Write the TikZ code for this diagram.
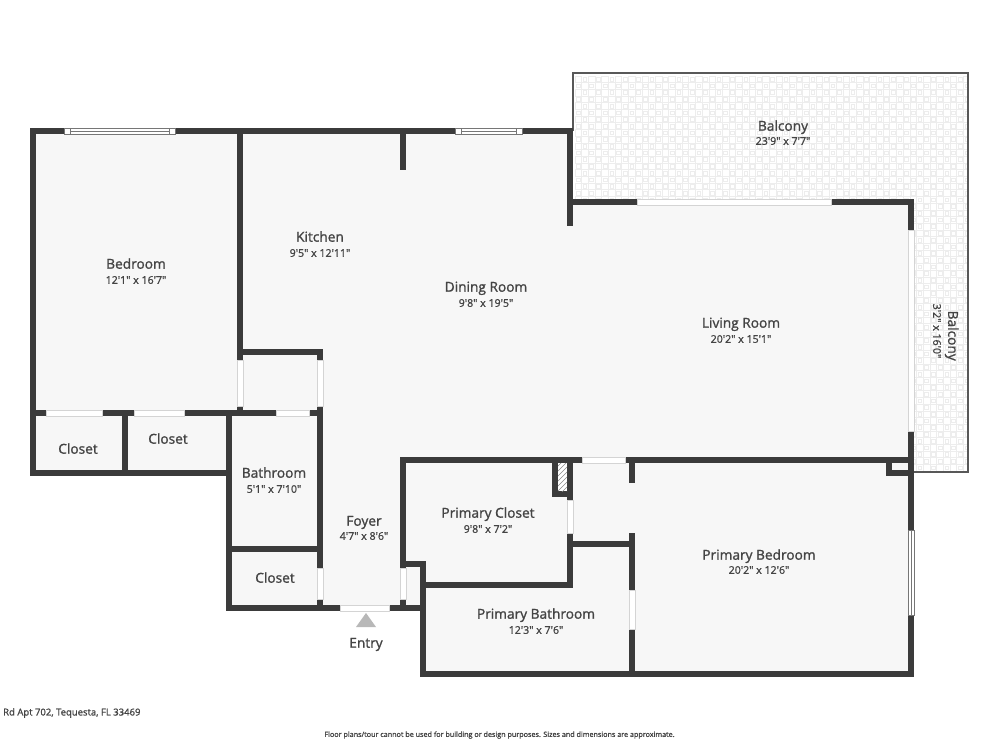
\documentclass[tikz,border=0pt]{standalone}
\usepackage{fontspec}
\newfontfamily\planfont[FakeBold=1.3]{Open Sans}
\definecolor{wallcolor}{HTML}{3B3B3B}
\definecolor{floorcolor}{HTML}{F7F7F7}
\definecolor{tilecolor}{HTML}{EDEDED}
\definecolor{edgecolor}{HTML}{D4D4D4}
\definecolor{textcolor}{HTML}{444444}
\tikzset{
	wallline/.style={draw=wallcolor, line width=6pt, line cap=butt},
	doorgap/.style={fill=white, draw=edgecolor, line width=0.8pt},
	roomname/.style={text=textcolor, font=\planfont\fontsize{13.7}{14}\selectfont, inner sep=0pt, anchor=base, yshift=-4.7pt},
	roomsize/.style={text=textcolor, font=\planfont\fontsize{10.6}{11}\selectfont, inner sep=0pt},
	footnote/.style={text=textcolor, font=\planfont\fontsize{7.2}{8}\selectfont, inner sep=0pt}
}
\begin{document}
\begin{tikzpicture}[x=1pt, y=-1pt, line join=miter, >=stealth]
	\useasboundingbox (0,0) rectangle (1000,750);
	\fill[white] (0,0) rectangle (1000,750);
	% balcony tiles
	\begin{scope}
		\clip (573,73) rectangle (968,472);
		\foreach \i in {0,...,29}{
			\foreach \j in {0,...,30}{
				\draw[tilecolor, line width=0.9pt] (575+\i*13.4,76+\j*13.4) rectangle ++(6.7,6.7);
				\draw[tilecolor, line width=0.9pt] (581.7+\i*13.4,82.7+\j*13.4) rectangle ++(6.7,6.7);
				\draw[tilecolor, line width=0.9pt] (583.2+\i*13.4,77.5+\j*13.4) rectangle ++(3.7,3.7);
				\draw[tilecolor, line width=0.9pt] (576.5+\i*13.4,84.2+\j*13.4) rectangle ++(3.7,3.7);
			}
		}
	\end{scope}
	\draw[wallcolor!85, line width=1.4pt] (573,131) -- (573,73) -- (968,73) -- (968,472) -- (912,472);
	% floor
	\fill[floorcolor] (33,131) -- (572,131) -- (572,202) -- (911,202) -- (911,674)
		-- (423,674) -- (423,607) -- (229,607) -- (229,473) -- (33,473) -- cycle;
	% walls
	\foreach \xa/\ya/\xb/\yb in {
		30/131/64/131, 175/131/455/131, 522/131/573/131,
		33/128/33/476, 240/128/240/360, 240/406/240/416, 403/131/403/170,
		570/128/570/226, 570/202/637/202, 831/202/914/202, 911/199/911/230,
		237/352/323/352, 320/349/320/360, 320/406/320/568, 320/599/320/611,
		33/413/46/413, 102/413/134/413, 184/413/276/413, 309/413/323/413,
		125/413/125/476, 30/473/232/473, 229/410/229/611, 229/549/320/549,
		226/608/340/608, 389/608/426/608,
		403/457/403/568, 403/599/403/608, 403/564/426/564, 423/561/423/677,
		400/460/582/460, 625/460/914/460, 632/457/632/483,
		555/460/555/497, 570/460/570/500, 552/494/573/494,
		570/533/570/588, 423/585/573/585, 567/544/635/544,
		632/533/632/590, 632/629/632/677, 420/674/914/674,
		911/431/911/530, 911/615/911/677, 889/460/889/476, 886/473/911/473}{
		\draw[wallline] (\xa,\ya) -- (\xb,\yb);
	}
	% doors and glass
	\foreach \xa/\ya/\xb/\yb in {
		46/410/102/416, 134/410/184/416, 276/410/309/416,
		237/360/243/406, 317/360/323/406, 317/568/323/599,
		340/605/389/611, 400/568/406/599, 582/457/625/463,
		567/500/573/533, 629/590/635/629,
		637/199/831/205, 908/230/914/431}{
		\draw[doorgap] (\xa,\ya) rectangle (\xb,\yb);
	}
	% windows
	\foreach \xa/\ya/\xb/\yb in {64/128/175/134, 455/128/522/134}{
		\draw[doorgap, draw=wallcolor!70] (\xa,\ya) rectangle (\xb,\yb);
		\draw[wallcolor!70, line width=0.6pt] (\xa+6,\ya) -- (\xa+6,\yb) (\xb-6,\ya) -- (\xb-6,\yb) (\xa+6,\ya+3) -- (\xb-6,\ya+3);
	}
	\draw[doorgap, draw=wallcolor!70] (908,530) rectangle (914,615);
	\draw[wallcolor!70, line width=0.6pt] (911,530) -- (911,615);
	% hatched shaft
	\fill[white] (558,463) rectangle (567,491);
	\begin{scope}
		\clip (558,463) rectangle (567,491);
		\foreach \k in {0,5,...,40}{
			\draw[wallcolor!60, line width=0.6pt] (556,463+\k) -- (570,463+\k-14);
		}
	\end{scope}
	% entry mark
	\fill[black!28] (366,613) -- (376,627) -- (356,627) -- cycle;
	% labels
	\path
	(136,264) node[roomname] (bedroomname) {Bedroom}
	(136,280) node[roomsize] (bedroomsize) {12'1" x 16'7"}
	(320,237) node[roomname] (kitchenname) {Kitchen}
	(320,253) node[roomsize] (kitchensize) {9'5" x 12'11"}
	(486,287) node[roomname] (diningname) {Dining Room}
	(486,303) node[roomsize] (diningsize) {9'8" x 19'5"}
	(741,323) node[roomname] (livingname) {Living Room}
	(741,339) node[roomsize] (livingsize) {20'2" x 15'1"}
	(783,126) node[roomname] (balconyname) {Balcony}
	(783,141) node[roomsize] (balconysize) {23'9" x 7'7"}
	(947,331) node[roomname, rotate=-90, anchor=center, yshift=4.7pt] (sidename) {Balcony}
	(937,331) node[roomsize, rotate=-90] (sidesize) {3'2" x 16'0"}
	(78,449) node[roomname] (closeta) {Closet}
	(168,439) node[roomname] (closetb) {Closet}
	(275,578) node[roomname] (closetc) {Closet}
	(274,473) node[roomname] (bathname) {Bathroom}
	(274,489) node[roomsize] (bathsize) {5'1" x 7'10"}
	(364,521) node[roomname] (foyername) {Foyer}
	(364,536) node[roomsize] (foyersize) {4'7" x 8'6"}
	(488,513) node[roomname] (pclosetname) {Primary Closet}
	(488,529) node[roomsize] (pclosetsize) {9'8" x 7'2"}
	(536,614) node[roomname] (pbathname) {Primary Bathroom}
	(536,630) node[roomsize] (pbathsize) {12'3" x 7'6"}
	(759,555) node[roomname] (pbedname) {Primary Bedroom}
	(759,570) node[roomsize] (pbedsize) {20'2" x 12'6"}
	(366,643) node[roomname] (entryname) {Entry}
	(3,713) node[roomsize, font=\planfont\fontsize{9.5}{10}\selectfont, anchor=west] (addressname) {Rd Apt 702, Tequesta, FL 33469}
	(499.5,735) node[footnote] (disclaimer) {Floor plans/tour cannot be used for building or design purposes. Sizes and dimensions are approximate.};
\end{tikzpicture}
\end{document}
